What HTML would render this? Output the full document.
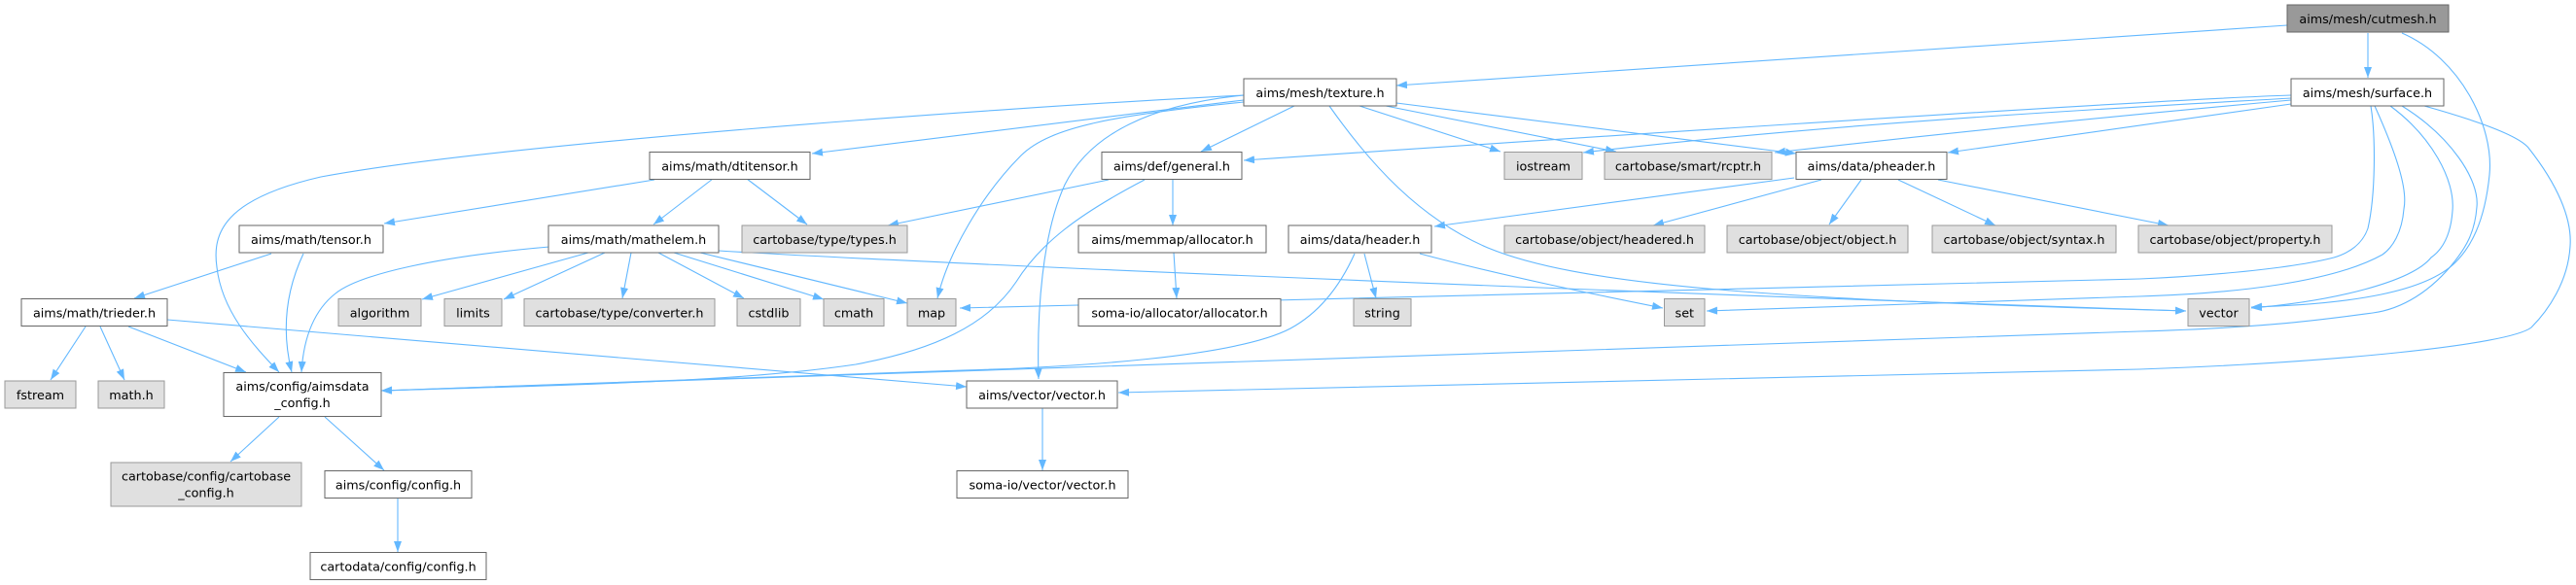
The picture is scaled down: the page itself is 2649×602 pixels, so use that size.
<!DOCTYPE html>
<html><head><meta charset="utf-8"><style>
html,body{margin:0;padding:0;background:#fff;}
svg{display:block;}
text{font-family:"DejaVu Sans","Liberation Sans",sans-serif;font-size:12.75px;fill:#000;text-anchor:middle;}
.e{fill:none;stroke:#63b8ff;stroke-width:1.1;marker-end:url(#a);}
.w{fill:#fff;stroke:#666;stroke-width:1;}
.g{fill:#e0e0e0;stroke:#999;stroke-width:1;}
.r{fill:#999;stroke:#666;stroke-width:1;}
</style></head><body>
<svg width="2649" height="602" viewBox="0 0 2649 602" xmlns="http://www.w3.org/2000/svg">
<defs><marker id="a" markerUnits="userSpaceOnUse" markerWidth="12" markerHeight="9" refX="11" refY="4.5" orient="auto"><path d="M0,0.5 L11,4.5 L0,8.5z" fill="#63b8ff"/></marker></defs>

<!-- edges -->
<path class="e" d="M2352,26 L1436,88"/>
<path class="e" d="M2435,34 L2435,80"/>
<path class="e" d="M2470,34 C2530,60 2565,130 2560,180 C2555,230 2540,255 2525,270 C2495,300 2420,313 2315,316"/>

<path class="e" d="M2438,109 C2443,140 2443,200 2435,235 C2428,255 2410,262 2400,265 C2350,278 2250,285 2200,287 L987,317"/>
<path class="e" d="M2442,109 C2465,160 2476,195 2472,215 C2470,240 2460,255 2450,262 C2400,290 2300,302 2200,305 L1755,320"/>
<path class="e" d="M2458,109 C2500,140 2525,185 2522,217 C2520,245 2510,258 2500,265 C2480,290 2400,310 2315,317"/>
<path class="e" d="M2470,109 C2520,140 2550,185 2547,213 C2545,240 2535,255 2525,268 C2500,300 2470,318 2440,322 C2380,330 2330,337 2200,341 L392,402"/>
<path class="e" d="M2493,109 C2550,125 2590,140 2600,152 C2630,190 2645,225 2643,253 C2641,290 2620,320 2603,337 C2580,355 2400,373 2200,380 L1150,404"/>
<path class="e" d="M2356,98 C2200,103 1500,150 1279,165"/>
<path class="e" d="M2356,101 C2200,110 1900,125 1628,157"/>
<path class="e" d="M2356,103 C2200,117 2000,137 1825,157"/>
<path class="e" d="M2356,107 L2003,157"/>

<path class="e" d="M1279,103 L835,158"/>
<path class="e" d="M1279,98 C1000,112 500,150 330,182 C230,205 218,240 223,275 C228,320 260,355 287,383"/>
<path class="e" d="M1331,109 L1235,156"/>
<path class="e" d="M1279,105 C1150,118 1080,130 1050,160 C1010,200 975,260 964,307"/>
<path class="e" d="M1279,98 C1180,108 1120,140 1095,190 C1072,240 1066,320 1068,390"/>
<path class="e" d="M1398,109 L1543,156"/>
<path class="e" d="M1425,109 L1662,156"/>
<path class="e" d="M1436,106 L1847,158"/>
<path class="e" d="M1367,109 C1410,170 1460,225 1530,255 C1620,292 1800,308 2248,320"/>

<path class="e" d="M673,185 L395,230"/>
<path class="e" d="M733,184 L672,231"/>
<path class="e" d="M768,184 L830,231"/>

<path class="e" d="M1140,185 L913,232"/>
<path class="e" d="M1206,184 L1206,232"/>
<path class="e" d="M1177,185 C1110,220 1070,250 1045,290 C1015,335 960,360 880,375 C780,390 650,395 392,402"/>
<path class="e" d="M1207,260 L1210,307"/>

<path class="e" d="M279,261 L138,307"/>
<path class="e" d="M312,261 C296,295 288,335 300,383"/>

<path class="e" d="M565,254 C450,264 370,282 345,302 C322,320 312,350 310,383"/>
<path class="e" d="M605,260 L434,308"/>
<path class="e" d="M622,260 L518,308"/>
<path class="e" d="M649,260 L640,307"/>
<path class="e" d="M677,260 L765,307"/>
<path class="e" d="M693,260 L847,308"/>
<path class="e" d="M720,260 L933,312"/>
<path class="e" d="M739,258 C900,268 1500,295 2248,320"/>

<path class="e" d="M88,336 L52,391"/>
<path class="e" d="M103,336 L128,391"/>
<path class="e" d="M132,336 L253,383"/>
<path class="e" d="M172,329 L994,398"/>

<path class="e" d="M287,429 L237,475"/>
<path class="e" d="M334,429 L395,484"/>
<path class="e" d="M409,513 L409,568"/>
<path class="e" d="M1072,420 L1072,484"/>

<path class="e" d="M1845,183 L1475,233"/>
<path class="e" d="M1873,185 L1700,232"/>
<path class="e" d="M1914,185 L1881,231"/>
<path class="e" d="M1952,185 L2052,232"/>
<path class="e" d="M1993,185 L2230,232"/>

<path class="e" d="M1403,261 L1415,307"/>
<path class="e" d="M1460,261 C1550,285 1650,305 1710,317"/>
<path class="e" d="M1393,261 C1380,290 1360,320 1327,338 C1270,368 1100,378 990,381 C800,388 600,395 392,402"/>

<!-- nodes -->
<rect class="r" x="2352" y="5" width="166" height="28"/><text x="2435" y="23.8">aims/mesh/cutmesh.h</text>

<rect class="w" x="1279" y="81" width="157" height="28"/><text x="1357.5" y="99.8">aims/mesh/texture.h</text>
<rect class="w" x="2356" y="81" width="157" height="28"/><text x="2434.5" y="99.8">aims/mesh/surface.h</text>

<rect class="w" x="668" y="156.5" width="165" height="28"/><text x="750.5" y="175.3">aims/math/dtitensor.h</text>
<rect class="w" x="1133" y="156.5" width="144" height="28"/><text x="1205" y="175.3">aims/def/general.h</text>
<rect class="g" x="1547" y="156.5" width="80" height="28"/><text x="1587" y="175.3">iostream</text>
<rect class="g" x="1650" y="156.5" width="172" height="28"/><text x="1736" y="175.3">cartobase/smart/rcptr.h</text>
<rect class="w" x="1847" y="156.5" width="155" height="28"/><text x="1924.5" y="175.3">aims/data/pheader.h</text>

<rect class="w" x="246" y="232" width="148" height="28"/><text x="320" y="250.8">aims/math/tensor.h</text>
<rect class="w" x="564" y="232" width="175" height="28"/><text x="651.5" y="250.8">aims/math/mathelem.h</text>
<rect class="g" x="763" y="232" width="170" height="28"/><text x="848" y="250.8">cartobase/type/types.h</text>
<rect class="w" x="1109" y="232" width="193" height="28"/><text x="1205.5" y="250.8">aims/memmap/allocator.h</text>
<rect class="w" x="1325" y="232" width="147" height="28"/><text x="1398.5" y="250.8">aims/data/header.h</text>
<rect class="g" x="1547" y="232" width="206" height="28"/><text x="1650" y="250.8">cartobase/object/headered.h</text>
<rect class="g" x="1776" y="232" width="186" height="28"/><text x="1869" y="250.8">cartobase/object/object.h</text>
<rect class="g" x="1987" y="232" width="189" height="28"/><text x="2081.5" y="250.8">cartobase/object/syntax.h</text>
<rect class="g" x="2199" y="232" width="199" height="28"/><text x="2298.5" y="250.8">cartobase/object/property.h</text>

<rect class="w" x="22" y="307.5" width="150" height="28"/><text x="97" y="326.3">aims/math/trieder.h</text>
<rect class="g" x="348" y="307.5" width="85" height="28"/><text x="390.5" y="326.3">algorithm</text>
<rect class="g" x="457" y="307.5" width="59" height="28"/><text x="486.5" y="326.3">limits</text>
<rect class="g" x="539" y="307.5" width="196" height="28"/><text x="637" y="326.3">cartobase/type/converter.h</text>
<rect class="g" x="758" y="307.5" width="65" height="28"/><text x="790.5" y="326.3">cstdlib</text>
<rect class="g" x="847" y="307.5" width="62" height="28"/><text x="878" y="326.3">cmath</text>
<rect class="g" x="933" y="307.5" width="50" height="28"/><text x="958" y="326.3">map</text>
<rect class="w" x="1109" y="307.5" width="208" height="28"/><text x="1213" y="326.3">soma-io/allocator/allocator.h</text>
<rect class="g" x="1392" y="307.5" width="59" height="28"/><text x="1421.5" y="326.3">string</text>
<rect class="g" x="1711.5" y="307.5" width="41.5" height="28"/><text x="1732.3" y="326.3">set</text>
<rect class="g" x="2250" y="307.5" width="63" height="28"/><text x="2281.5" y="326.3">vector</text>

<rect class="g" x="5" y="392" width="73" height="28"/><text x="41.5" y="410.8">fstream</text>
<rect class="g" x="101" y="392" width="68" height="28"/><text x="135" y="410.8">math.h</text>
<rect class="w" x="230" y="383.5" width="162" height="45"/><text x="311" y="401.8">aims/config/aimsdata</text><text x="311" y="419.2">_config.h</text>
<rect class="w" x="994" y="392" width="155" height="28"/><text x="1071.5" y="410.8">aims/vector/vector.h</text>

<rect class="g" x="114" y="476" width="196" height="45"/><text x="212" y="494.3">cartobase/config/cartobase</text><text x="212" y="511.7">_config.h</text>
<rect class="w" x="334" y="484.5" width="151" height="28"/><text x="409.5" y="503.3">aims/config/config.h</text>
<rect class="w" x="984" y="484.5" width="176" height="28"/><text x="1072" y="503.3">soma-io/vector/vector.h</text>

<rect class="w" x="319" y="568.5" width="181" height="28"/><text x="409.5" y="587.3">cartodata/config/config.h</text>
</svg>
</body></html>
